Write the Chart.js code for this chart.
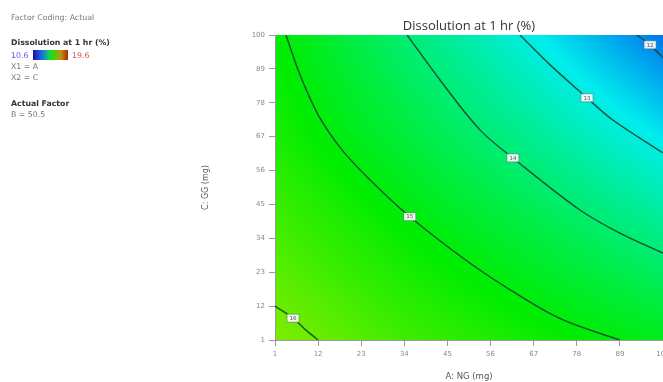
<!DOCTYPE html>
<html>
<head>
<meta charset="utf-8">
<script src="https://cdn.jsdelivr.net/npm/chart.js@4.4.1/dist/chart.umd.min.js"></script>
<style>
  html, body { margin: 0; padding: 0; background: #fff; overflow: hidden; }
  #wrap { position: relative; width: 663px; height: 382px; overflow: hidden; }
  #chart { position: absolute; left: 0; top: 0; }
  .info { position: absolute; left: 11px; font-family: 'DejaVu Sans', sans-serif; font-size: 7.8px; line-height: 9px; color: #777; white-space: nowrap; }
  .info.bold { font-weight: bold; color: #333; }
  .bar { position: absolute; left: 33px; top: 50px; width: 35px; height: 10px;
         background: linear-gradient(to right, #14149a, #1f5cf0 22%, #10d060 45%, #20e010 55%, #c09010 80%, #a82a10); }
</style>
</head>
<body>
<div id="wrap">
  <canvas id="chart" width="690" height="382"></canvas>
  <div class="info" style="top:13px">Factor Coding: Actual</div>
  <div class="info bold" style="top:38px">Dissolution at 1 hr (%)</div>
  <div class="info" style="top:51px; color:#5a5ae0">10.6</div>
  <div class="bar"></div>
  <div class="info" style="top:51px; left:72px; color:#e05050">19.6</div>
  <div class="info" style="top:62px">X1 = A</div>
  <div class="info" style="top:73px">X2 = C</div>
  <div class="info bold" style="top:99px">Actual Factor</div>
  <div class="info" style="top:110px">B = 50.5</div>
</div>
<script>
// axis ticks (mg)
const tickValues = [1, 12, 23, 34, 45, 56, 67, 78, 89, 100];

// contour levels of dissolution at 1 hr (%)
const contourLevels = [16, 15, 14, 13, 12];

// contour lines, A: NG (x) vs C: GG (y)
const line16 = [{x: 1, y: 12.0}, {x: 5.6, y: 8.1}, {x: 8.9, y: 4.2}, {x: 12, y: 1}];
const line15 = [{x: 3.8, y: 100}, {x: 7.4, y: 87}, {x: 12.0, y: 74.1}, {x: 18.1, y: 62.7},
                {x: 25.2, y: 53.0}, {x: 35.4, y: 41.0}, {x: 50.7, y: 26.0}, {x: 63.5, y: 15.3},
                {x: 74.5, y: 7.5}, {x: 89, y: 1}];
const line14 = [{x: 34.7, y: 100}, {x: 43.1, y: 85.4}, {x: 53.3, y: 69.2}, {x: 61.7, y: 60.1},
                {x: 78.8, y: 43.2}, {x: 89, y: 35.7}, {x: 100, y: 29.2}];
const line13 = [{x: 63.5, y: 100}, {x: 71.2, y: 90.3}, {x: 80.6, y: 79.6}, {x: 87.2, y: 72.4},
                {x: 100, y: 61.7}];
const line12 = [{x: 93.3, y: 100}, {x: 96.7, y: 96.8}, {x: 100, y: 92.6}];

// where each contour carries its value tag
const labelPoints = [{x: 5.6, y: 8.1}, {x: 35.4, y: 41.0}, {x: 61.7, y: 60.1}, {x: 80.6, y: 79.6}, {x: 96.7, y: 96.8}];

// response surface on a coarse grid (rows = GG, cols = NG)
const gridNG = [1, 34, 67, 100];
const gridGG = [1, 34, 67, 100];
const gridResp = [
  [16.3, 15.7, 15.25, 14.85],
  [15.8, 15.15, 14.55, 13.85],
  [15.35, 14.55, 13.7, 12.8],
  [15.1, 14.02, 12.9, 11.7]
];
const respMin = 10.6;
const respMax = 19.6;

function segIndex(arr, v) {
  for (let i = 0; i < arr.length - 2; i++) if (v < arr[i + 1]) return i;
  return arr.length - 2;
}

function responseAt(x, y) {
  const i = segIndex(gridNG, x), j = segIndex(gridGG, y);
  const tx = (x - gridNG[i]) / (gridNG[i + 1] - gridNG[i]);
  const ty = (y - gridGG[j]) / (gridGG[j + 1] - gridGG[j]);
  const a = gridResp[j][i], b = gridResp[j][i + 1];
  const c = gridResp[j + 1][i], d = gridResp[j + 1][i + 1];
  return (a * (1 - tx) + b * tx) * (1 - ty) + (c * (1 - tx) + d * tx) * ty;
}

// blue - cyan - green - yellow - red
function colourFor(v) {
  let t = (v - respMin) / (respMax - respMin);
  t = Math.max(0, Math.min(1, t));
  const stops = [[0, 0, 255], [0, 255, 255], [0, 255, 0], [255, 255, 0], [255, 0, 0]];
  const p = t * 4, k = Math.min(3, Math.floor(p)), f = p - k;
  const s0 = stops[k], s1 = stops[k + 1];
  const dim = 0.93;
  return [0, 1, 2].map(n => Math.round((s0[n] + (s1[n] - s0[n]) * f) * dim));
}

const surfacePlugin = {
  id: 'surface',
  beforeDraw(chart) {
    const area = chart.chartArea;
    const xs = chart.scales.x, ys = chart.scales.y;
    const w = Math.round(area.right - area.left), h = Math.round(area.bottom - area.top);
    const off = document.createElement('canvas');
    off.width = w; off.height = h;
    const octx = off.getContext('2d');
    const img = octx.createImageData(w, h);
    for (let py = 0; py < h; py++) {
      const yv = ys.getValueForPixel(area.top + py + 0.5);
      for (let px = 0; px < w; px++) {
        const xv = xs.getValueForPixel(area.left + px + 0.5);
        const col = colourFor(responseAt(xv, yv));
        const idx = (py * w + px) * 4;
        img.data[idx] = col[0];
        img.data[idx + 1] = col[1];
        img.data[idx + 2] = col[2];
        img.data[idx + 3] = 255;
      }
    }
    octx.putImageData(img, 0, 0);
    chart.ctx.drawImage(off, area.left, area.top);
  }
};

const contourTagPlugin = {
  id: 'contourTags',
  afterDatasetsDraw(chart) {
    const ctx = chart.ctx;
    const xs = chart.scales.x, ys = chart.scales.y;
    ctx.save();
    ctx.font = '5.5px "DejaVu Sans", sans-serif';
    ctx.textAlign = 'center';
    ctx.textBaseline = 'middle';
    labelPoints.forEach((p, i) => {
      const px = xs.getPixelForValue(p.x), py = ys.getPixelForValue(p.y);
      ctx.fillStyle = 'rgba(255,255,255,0.9)';
      ctx.fillRect(px - 6, py - 4, 12, 8);
      ctx.strokeStyle = 'rgba(90,110,100,0.9)';
      ctx.lineWidth = 0.6;
      ctx.strokeRect(px - 6, py - 4, 12, 8);
      ctx.fillStyle = '#556';
      ctx.fillText(String(contourLevels[i]), px, py + 0.3);
    });
    ctx.restore();
  }
};

const lines = [line16, line15, line14, line13, line12];

const axisFont = { family: "'DejaVu Sans', sans-serif", size: 7 };

new Chart(document.getElementById('chart').getContext('2d'), {
  type: 'scatter',
  data: {
    datasets: lines.map((pts, i) => ({
      label: String(contourLevels[i]),
      data: pts,
      showLine: true,
      pointRadius: 0,
      borderColor: 'rgba(25,55,40,0.85)',
      borderWidth: 1.4,
      tension: 0.35
    }))
  },
  options: {
    responsive: false,
    animation: false,
    layout: { padding: { left: 201, right: 27, top: 0, bottom: 0 } },
    plugins: {
      legend: { display: false },
      tooltip: { enabled: false },
      title: {
        display: true,
        text: 'Dissolution at 1 hr (%)',
        fullSize: false,
        color: '#333',
        font: { family: "'Open Sans', sans-serif", size: 13, weight: 'normal' },
        padding: { top: 18, bottom: 1.4 }
      }
    },
    scales: {
      x: {
        type: 'linear',
        min: 1,
        max: 100,
        afterBuildTicks: s => { s.ticks = tickValues.map(v => ({ value: v })); },
        afterFit: s => { s.height = 42; },
        ticks: { font: axisFont, color: '#888', padding: 4, autoSkip: false, maxRotation: 0 },
        grid: { drawOnChartArea: false, tickLength: 6, color: '#999' },
        border: { color: '#999' },
        title: { display: true, text: 'A: NG (mg)', color: '#555', padding: 0,
                 font: { family: "'DejaVu Sans', sans-serif", size: 8.5 } }
      },
      y: {
        type: 'linear',
        min: 1,
        max: 100,
        afterBuildTicks: s => { s.ticks = tickValues.map(v => ({ value: v })); },
        afterFit: s => { s.width = 74; },
        ticks: { font: axisFont, color: '#888', padding: 4, autoSkip: false },
        grid: { drawOnChartArea: false, tickLength: 6, color: '#999' },
        border: { color: '#999' },
        title: { display: true, text: 'C: GG (mg)', color: '#555', padding: 0,
                 font: { family: "'DejaVu Sans', sans-serif", size: 8 } }
      }
    }
  },
  plugins: [surfacePlugin, contourTagPlugin]
});
</script>
</body>
</html>
